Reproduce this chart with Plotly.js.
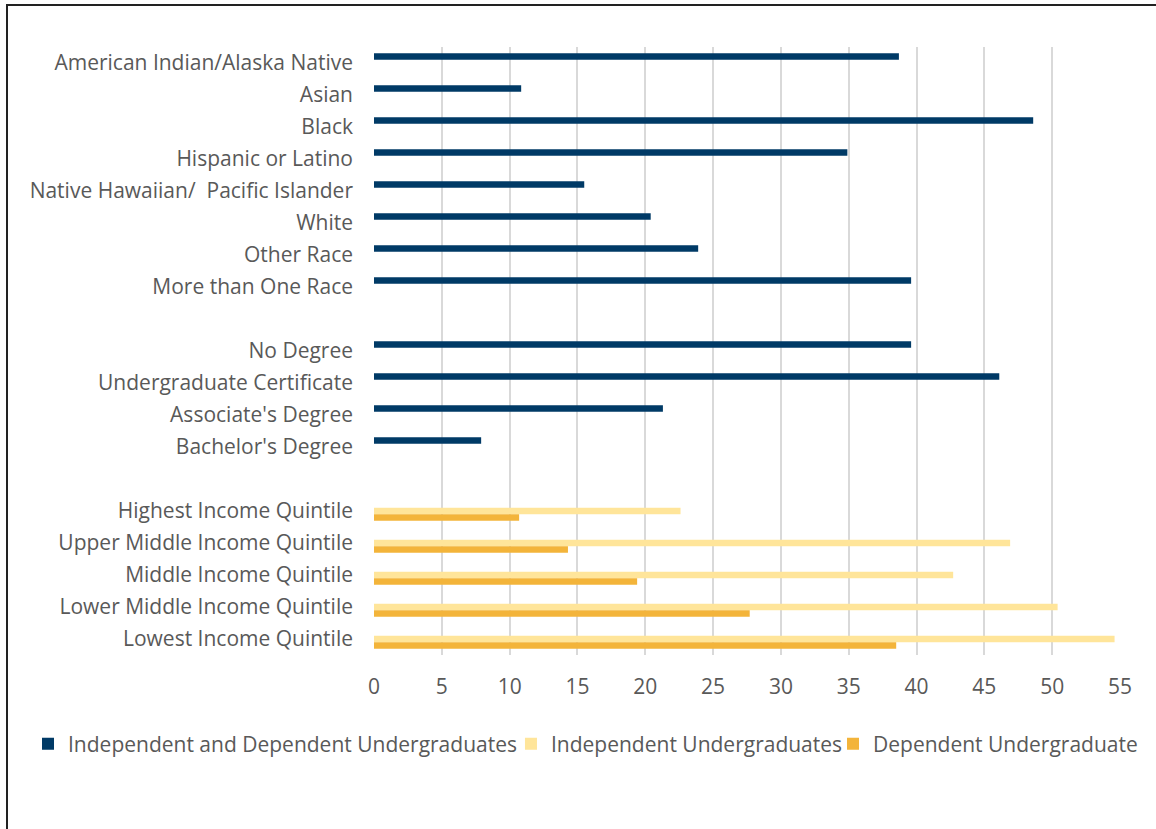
<!DOCTYPE html>
<html>
<head>
<meta charset="utf-8">
<script src="https://cdn.plot.ly/plotly-3.0.1.min.js"></script>
<style>
  html, body { margin: 0; padding: 0; background: #fff; }
  #chart { width: 1156px; height: 829px; }
  #frame { position: absolute; left: 6px; top: 4px; width: 1160px; height: 823px;
           border-left: 2px solid #222; border-top: 2px solid #222; border-bottom: 1px solid #d9d9d9;
           pointer-events: none; }
</style>
</head>
<body>
<div id="chart"></div>
<div id="frame"></div>
<script>
// ---- data ----
const raceCats = ["American Indian/Alaska Native", "Asian", "Black", "Hispanic or Latino",
  "Native Hawaiian/\u00a0 Pacific Islander", "White", "Other Race", "More than One Race"];
const raceVals = [38.7, 10.85, 48.6, 34.9, 15.5, 20.4, 23.9, 39.6];

const degreeCats = ["No Degree", "Undergraduate Certificate", "Associate's Degree", "Bachelor's Degree"];
const degreeVals = [39.6, 46.1, 21.3, 7.9];

const incomeCats = ["Highest Income Quintile", "Upper Middle Income Quintile", "Middle Income Quintile",
  "Lower Middle Income Quintile", "Lowest Income Quintile"];
const independentVals = [22.6, 46.9, 42.7, 50.4, 54.6];
const dependentVals = [10.7, 14.3, 19.4, 27.7, 38.5];

const seriesNames = ["Independent and Dependent Undergraduates", "Independent Undergraduates", "Dependent Undergraduate"];
const xTicks = [0, 5, 10, 15, 20, 25, 30, 35, 40, 45, 50, 55];

// ---- build ----
const gap1 = " ", gap2 = "\u00a0";
const allCats = [...raceCats, gap1, ...degreeCats, gap2, ...incomeCats];
const nulls = n => Array(n).fill(null);

const xAll = [...raceVals, null, ...degreeVals, null, ...nulls(incomeCats.length)];
const xInd = [...nulls(raceCats.length), null, ...nulls(degreeCats.length), null, ...independentVals];
const xDep = [...nulls(raceCats.length), null, ...nulls(degreeCats.length), null, ...dependentVals];

const colors = ["#003A66", "#FFE59A", "#F3B43A"];
const font = "'Open Sans', sans-serif";
const fs = 21;
const legendIds = ["legend", "legend2", "legend3"];
const legendX = [-0.4638, 0.1836, 0.6153];

const traces = [xAll, xInd, xDep].map((xs, i) => ({
  type: "bar", orientation: "h", name: seriesNames[i],
  y: allCats, x: xs,
  marker: { color: colors[i] },
  legend: legendIds[i],
  hoverinfo: "x+y"
}));

const legendBase = (x) => ({
  orientation: "h", xref: "paper", yref: "paper",
  x: x, xanchor: "left", y: -0.1464, yanchor: "middle",
  font: { size: fs, color: "#595959" }, bgcolor: "rgba(0,0,0,0)"
});

const layout = {
  width: 1156, height: 829,
  margin: { l: 374, r: 35.5, t: 47, b: 174 },
  paper_bgcolor: "#fff", plot_bgcolor: "#fff",
  barmode: "group", bargap: 0.39, bargroupgap: 0,
  font: { family: font, size: fs, color: "#595959" },
  xaxis: {
    range: [0, 55], tickvals: xTicks, ticks: "", showgrid: true,
    gridcolor: "#d9d9d9", gridwidth: 2, zeroline: false, showline: false,
    ticklabelstandoff: 17, tickfont: { size: fs, color: "#595959" }, fixedrange: true
  },
  yaxis: {
    type: "category", categoryorder: "array", categoryarray: allCats,
    autorange: "reversed", showgrid: false, zeroline: false, showline: false, ticks: "",
    ticklabelstandoff: 20, tickfont: { size: fs, color: "#595959" }, fixedrange: true
  },
  legend: legendBase(legendX[0]),
  legend2: legendBase(legendX[1]),
  legend3: legendBase(legendX[2]),
  showlegend: true
};

Plotly.newPlot("chart", traces, layout, { displayModeBar: false, staticPlot: true });
</script>
</body>
</html>
